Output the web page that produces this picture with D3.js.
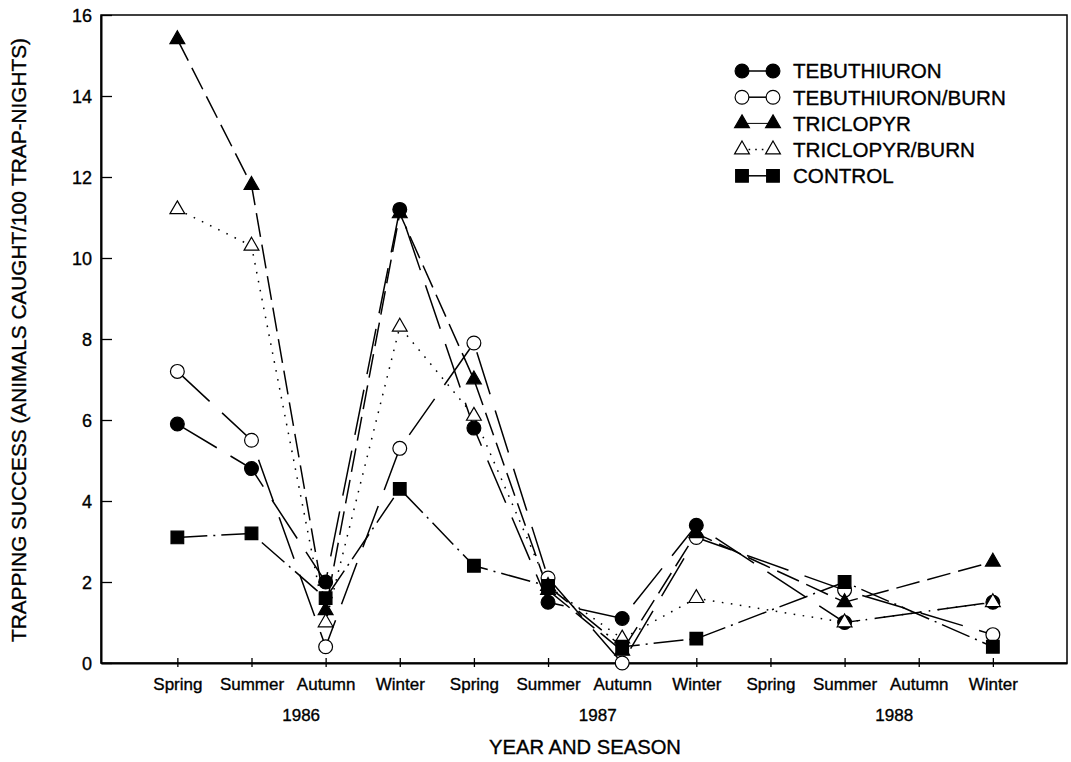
<!DOCTYPE html>
<html>
<head>
<meta charset="utf-8">
<script src="https://cdn.jsdelivr.net/npm/d3@7"></script>
<style>
  body { margin: 0; background: #fff; }
  svg { display: block; }
  text { font-family: "Liberation Sans", Arial, Helvetica, sans-serif; fill: #000; stroke: #000; stroke-width: 0.35px; }
</style>
</head>
<body>
<svg id="chart" width="1071" height="762"></svg>
<script>
// Sampling seasons along the x axis, three years of four seasons each
const seasons = ["Spring", "Summer", "Autumn", "Winter",
                 "Spring", "Summer", "Autumn", "Winter",
                 "Spring", "Summer", "Autumn", "Winter"];
const years = ["1986", "1987", "1988"];
const yTicks = [0, 2, 4, 6, 8, 10, 12, 14, 16];

// Trapping success (animals caught / 100 trap-nights); null = not sampled
const tebuthiuron     = [5.9, 4.8, 2.0, 11.2, 5.8, 1.5, 1.1, 3.4, null, 1.0, null, 1.5];
const tebuthiuronBurn = [7.2, 5.5, 0.4, 5.3, 7.9, 2.1, 0.0, 3.1, null, 1.8, null, 0.7];
const triclopyr       = [15.4, 11.8, 1.3, 11.1, 7.0, 1.8, 0.3, 3.2, null, 1.5, null, 2.5];
const triclopyrBurn   = [11.2, 10.3, 1.0, 8.3, 6.1, 1.9, 0.6, 1.6, null, 1.0, null, 1.5];
const control         = [3.1, 3.2, 1.6, 4.3, 2.4, 1.9, 0.4, 0.6, null, 2.0, null, 0.4];

const treatments = ["TEBUTHIURON", "TEBUTHIURON/BURN", "TRICLOPYR", "TRICLOPYR/BURN", "CONTROL"];

// Symbol / line style for each treatment
const styles = {
  "TEBUTHIURON":      { values: tebuthiuron,     symbol: d3.symbolCircle,   size: 150, fill: "#000", dash: "46,16" },
  "TEBUTHIURON/BURN": { values: tebuthiuronBurn, symbol: d3.symbolCircle,   size: 150, fill: "#fff", dash: "44,17" },
  "TRICLOPYR":        { values: triclopyr,       symbol: d3.symbolTriangle, size: 95,  fill: "#000", dash: "24,8" },
  "TRICLOPYR/BURN":   { values: triclopyrBurn,   symbol: d3.symbolTriangle, size: 95,  fill: "#fff", dash: "1.6,7.5" },
  "CONTROL":          { values: control,         symbol: d3.symbolSquare,   size: 160, fill: "#000", dash: "30,6,2,6" }
};
// Marker drawing order (later ones sit on top)
const markerOrder = ["TEBUTHIURON/BURN", "TRICLOPYR", "TEBUTHIURON", "TRICLOPYR/BURN", "CONTROL"];

const svg = d3.select("#chart");
const plotLeft = 101, plotRight = 1067, plotTop = 15, plotBottom = 663;

const x = d3.scaleLinear().domain([-1.03, 12]).range([plotLeft, plotRight]);
const y = d3.scaleLinear().domain([0, 16]).range([plotBottom, plotTop]);

// Plot frame
svg.append("rect")
  .attr("x", plotLeft).attr("y", plotTop)
  .attr("width", plotRight - plotLeft).attr("height", plotBottom - plotTop)
  .attr("fill", "none").attr("stroke", "#000").attr("stroke-width", 1.5);

// Y axis with inward ticks
const yAxis = svg.append("g")
  .attr("transform", `translate(${plotLeft},0)`)
  .call(d3.axisLeft(y).tickValues(yTicks).tickSizeInner(-11).tickSizeOuter(0).tickPadding(9));
yAxis.select(".domain").attr("stroke-width", 2);
yAxis.selectAll(".tick line").attr("stroke-width", 1.3);
yAxis.selectAll("text").style("font-size", "18px").attr("dy", "0.36em");

// X axis with ticks crossing the baseline
const xAxis = svg.append("g")
  .attr("transform", `translate(0,${plotBottom})`)
  .call(d3.axisBottom(x).tickValues(d3.range(seasons.length))
    .tickFormat(i => seasons[i]).tickSizeInner(4).tickSizeOuter(0).tickPadding(11));
xAxis.select(".domain").attr("stroke-width", 2);
xAxis.selectAll(".tick line").attr("y1", -5).attr("stroke-width", 1.3);
xAxis.selectAll("text").style("font-size", "17px");

// Year labels under each group of four seasons
svg.append("g").selectAll("text")
  .data(years)
  .join("text")
  .attr("x", (d, i) => x(i * 4 + 1.5 + 0.17))
  .attr("y", 721)
  .attr("text-anchor", "middle")
  .style("font-size", "17px")
  .text(d => d);

// Axis titles
svg.append("text")
  .attr("x", 585).attr("y", 754)
  .attr("text-anchor", "middle")
  .style("font-size", "20.2px")
  .text("YEAR AND SEASON");

svg.append("text")
  .attr("transform", "translate(18,340) rotate(-90)")
  .attr("text-anchor", "middle")
  .attr("dy", "0.36em")
  .style("font-size", "20.8px")
  .text("TRAPPING SUCCESS (ANIMALS CAUGHT/100 TRAP-NIGHTS)");

// Series lines (connect sampled seasons, skipping gaps)
const line = d3.line().x(d => x(d.i)).y(d => y(d.v));
const pointsOf = name => styles[name].values
  .map((v, i) => ({ i, v }))
  .filter(d => d.v !== null);

svg.append("g").selectAll("path")
  .data(treatments)
  .join("path")
  .attr("d", name => line(pointsOf(name)))
  .attr("fill", "none")
  .attr("stroke", "#000")
  .attr("stroke-width", 1.5)
  .attr("stroke-dasharray", name => styles[name].dash);

// Series markers
markerOrder.forEach(name => {
  const s = styles[name];
  svg.append("g").selectAll("path")
    .data(pointsOf(name))
    .join("path")
    .attr("transform", d => `translate(${x(d.i)},${y(d.v)})`)
    .attr("d", d3.symbol().type(s.symbol).size(s.size))
    .attr("fill", s.fill)
    .attr("stroke", "#000")
    .attr("stroke-width", 1.2);
});

// Legend
const legend = svg.append("g");
const legX1 = 742, legX2 = 773, legY0 = 71, legStep = 26.2;
treatments.forEach((name, k) => {
  const s = styles[name];
  const yy = legY0 + k * legStep;
  legend.append("line")
    .attr("x1", legX1).attr("x2", legX2).attr("y1", yy).attr("y2", yy)
    .attr("stroke", "#000").attr("stroke-width", name === "TRICLOPYR" ? 1 : 1.5)
    .attr("stroke-dasharray", name === "TRICLOPYR/BURN" ? "1.6,5" : null);
  [legX1, legX2].forEach(px => {
    legend.append("path")
      .attr("transform", `translate(${px},${yy})`)
      .attr("d", d3.symbol().type(s.symbol).size(s.size))
      .attr("fill", s.fill)
      .attr("stroke", "#000")
      .attr("stroke-width", 1.2);
  });
  legend.append("text")
    .attr("x", 793).attr("y", yy)
    .attr("dy", "0.36em")
    .style("font-size", "20.6px")
    .text(name);
});
</script>
</body>
</html>
